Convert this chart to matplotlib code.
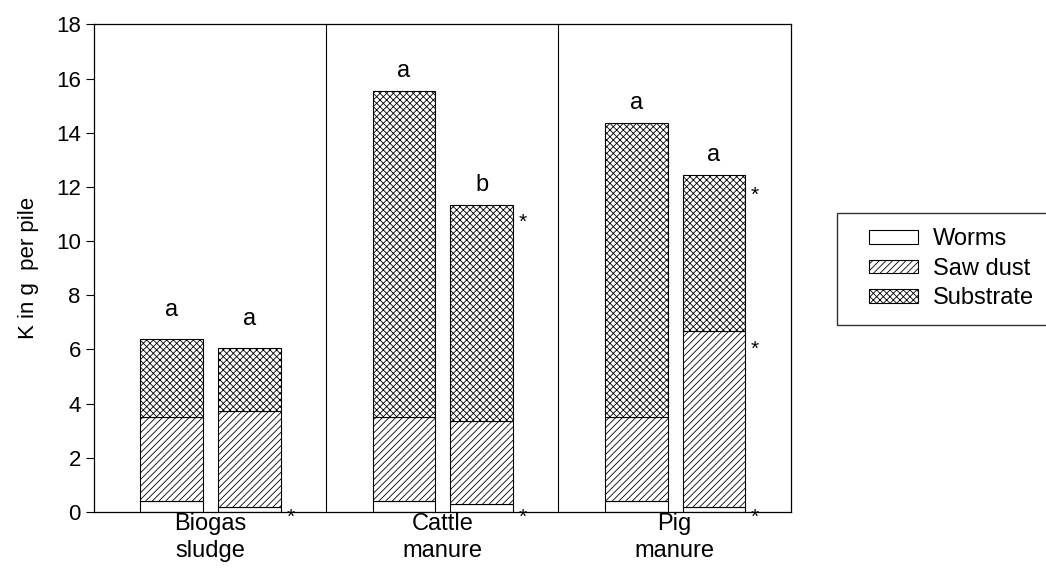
import numpy as np
import matplotlib.pyplot as plt
import matplotlib.patches as mpatches
from matplotlib.legend_handler import HandlerPatch

plt.rcParams['font.family'] = ['Liberation Sans', 'DejaVu Sans']
plt.rcParams['hatch.linewidth'] = 0.6

groups = ['Biogas\nsludge', 'Cattle\nmanure', 'Pig\nmanure']
worms = [0.40, 0.18, 0.42, 0.28, 0.42, 0.20]
saw_dust = [3.12, 3.55, 3.09, 3.09, 3.09, 6.49]
substrate = [2.88, 2.34, 12.04, 7.98, 10.86, 5.76]
letters = ['a', 'a', 'a', 'b', 'a', 'a']
star_y = [[-0.2], [-0.2, 10.7], [-0.2, 6.0, 11.7]]

pos = []
for g in range(3):
    pos += [g + 0.335, g + 0.67]
pos = np.array(pos)
w = 0.27

fig = plt.figure(figsize=(10.46, 5.68), dpi=100)
ax = fig.add_axes([0.0899, 0.0986, 0.666, 0.8583])

b1 = ax.bar(pos, worms, w, color='white', edgecolor='black', linewidth=0.8, label='Worms')
b2 = ax.bar(pos, saw_dust, w, bottom=worms, color='white', edgecolor='black',
            hatch='/////', linewidth=0.8, label='Saw dust')
bottom2 = np.array(worms) + np.array(saw_dust)
b3 = ax.bar(pos, substrate, w, bottom=bottom2, color='white', edgecolor='black',
            hatch='xxxxx', linewidth=0.8, label='Substrate')

totals = bottom2 + np.array(substrate)
for i, (x, t, l) in enumerate(zip(pos, totals, letters)):
    off = 1.05 if i < 2 else 0.72
    ax.text(x, t + off, l, ha='center', va='center', fontsize=17)

for g in range(3):
    for y in star_y[g]:
        ax.text(pos[2 * g + 1] + w / 2 + 0.04, y, '*', ha='center', va='center', fontsize=15)

for s in [1, 2]:
    ax.axvline(s, color='black', linewidth=0.8)

ax.set_xlim(0, 3)
ax.set_ylim(0, 18)
ax.set_yticks(range(0, 19, 2))
ax.set_xticks([0.5, 1.5, 2.5])
ax.set_xticklabels(groups, fontsize=17, linespacing=1.25)
ax.tick_params(axis='x', length=0, pad=1)
ax.tick_params(axis='y', direction='out', length=6, labelsize=16, width=0.8)
ax.set_ylabel('K in g  per pile', fontsize=16, labelpad=12)
for sp in ax.spines.values():
    sp.set_linewidth(0.9)


# legend swatch drawn a little in from the frame
def inset_patch(legend, orig_handle, xdescent, ydescent, width, height, fontsize):
    return mpatches.Rectangle((-xdescent + 12, -ydescent), width - 12, height)


handles = [b1.patches[0], b2.patches[0], b3.patches[0]]
labels = ['Worms', 'Saw dust', 'Substrate']
hm = {h: HandlerPatch(patch_func=inset_patch) for h in handles}
fig.legend(handles, labels, loc='upper left', bbox_to_anchor=(0.8002, 0.625),
           fontsize=17, frameon=True, fancybox=False, edgecolor='black',
           handlelength=2.8, handleheight=0.5, handletextpad=0.6,
           labelspacing=0.32, borderpad=0.65, borderaxespad=0, handler_map=hm)

fig.savefig('out.png', dpi=100, facecolor='white')
